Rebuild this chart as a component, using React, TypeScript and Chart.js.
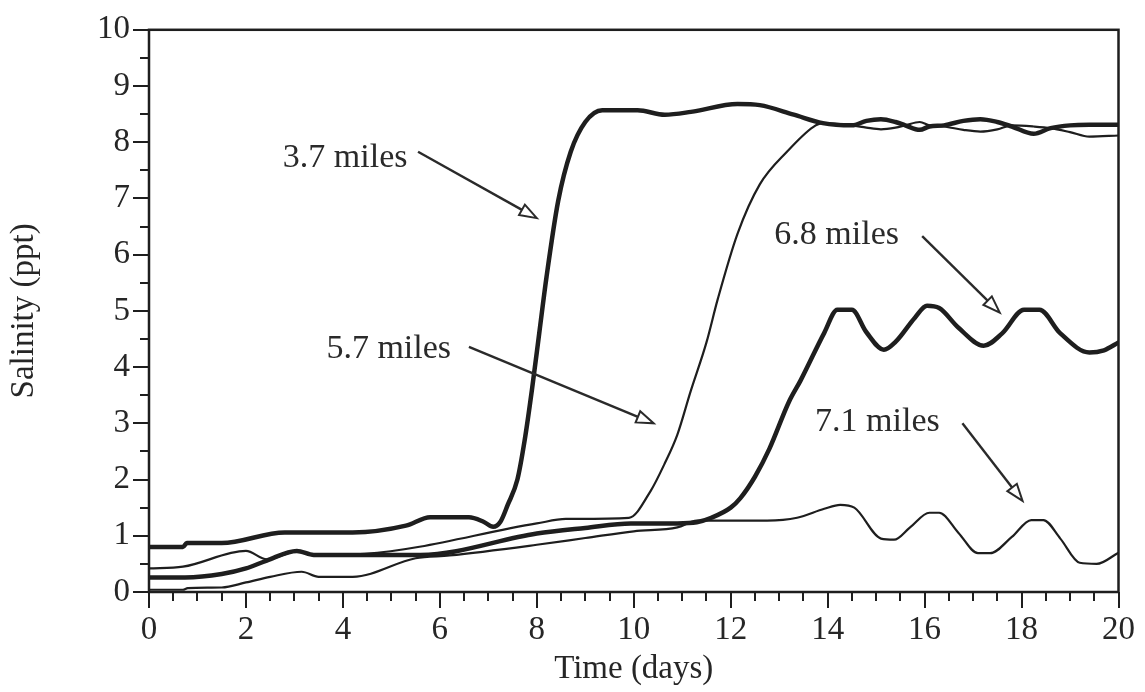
import React, { useEffect, useRef } from 'react';
import { Chart, registerables } from 'chart.js';

Chart.register(...registerables);

// ---- Series data (time in days, salinity in ppt) ----
const days37 = [0, 0.7, 0.78, 1.5, 2.8, 4.2, 5.3, 5.8, 6.6, 6.9, 7.1, 7.25, 7.4, 7.6, 7.75, 7.9, 8.05, 8.2, 8.44, 8.7, 9.0, 9.35, 10.08, 10.64, 11.18, 12.14, 12.6, 13.3, 13.9, 14.5, 14.8, 15.1, 15.4, 15.6, 15.9, 16.1, 16.4, 16.8, 17.15, 17.5, 17.8, 18.25, 18.6, 19.0, 19.4, 20];
const sal37 = [0.8, 0.8, 0.87, 0.87, 1.06, 1.06, 1.18, 1.33, 1.33, 1.25, 1.16, 1.25, 1.55, 2.0, 2.7, 3.6, 4.6, 5.6, 6.95, 7.83, 8.36, 8.57, 8.57, 8.49, 8.54, 8.68, 8.66, 8.49, 8.34, 8.3, 8.38, 8.41, 8.36, 8.3, 8.22, 8.28, 8.3, 8.38, 8.41, 8.36, 8.28, 8.15, 8.25, 8.3, 8.31, 8.31];

const days57 = [0, 0.7, 2.0, 2.43, 3.05, 3.4, 4.45, 8.0, 8.6, 9.9, 10.35, 10.63, 10.9, 11.17, 11.5, 11.73, 12.14, 12.6, 13.17, 13.7, 13.9, 14.5, 14.8, 15.1, 15.4, 15.6, 15.9, 16.1, 16.4, 16.8, 17.15, 17.5, 17.8, 18.25, 18.6, 19.0, 19.4, 20];
const sal57 = [0.42, 0.45, 0.73, 0.58, 0.72, 0.66, 0.68, 1.22, 1.3, 1.32, 1.8, 2.27, 2.8, 3.56, 4.44, 5.2, 6.37, 7.25, 7.84, 8.27, 8.34, 8.3, 8.26, 8.23, 8.26, 8.3, 8.36, 8.3, 8.28, 8.22, 8.19, 8.23, 8.3, 8.28, 8.25, 8.18, 8.1, 8.12];

const days68 = [0, 0.74, 1.5, 2.0, 2.43, 3.05, 3.4, 5.6, 8.0, 9.0, 9.94, 10.9, 11.3, 11.6, 12.0, 12.2, 12.5, 12.8, 13.2, 13.44, 13.93, 14.2, 14.5, 14.8, 15.16, 15.4, 15.8, 16.05, 16.3, 16.7, 17.22, 17.6, 18.05, 18.37, 18.8, 19.4, 19.7, 20];
const sal68 = [0.26, 0.26, 0.32, 0.42, 0.56, 0.73, 0.66, 0.66, 1.04, 1.14, 1.22, 1.22, 1.24, 1.32, 1.5, 1.67, 2.05, 2.55, 3.38, 3.76, 4.61, 5.02, 5.02, 4.62, 4.31, 4.45, 4.88, 5.09, 5.05, 4.7, 4.38, 4.6, 5.02, 5.02, 4.6, 4.26, 4.3, 4.44];

const days71 = [0, 0.7, 0.8, 1.5, 2.0, 2.5, 3.15, 3.5, 4.2, 5.5, 6.2, 8.0, 9.0, 10.0, 10.9, 11.3, 12.75, 13.37, 13.93, 14.26, 14.55, 15.1, 15.37, 15.7, 16.1, 16.3, 16.7, 17.1, 17.35, 17.8, 18.2, 18.45, 18.8, 19.2, 19.55, 20];
const sal71 = [0.04, 0.04, 0.07, 0.08, 0.17, 0.27, 0.36, 0.27, 0.27, 0.6, 0.65, 0.84, 0.96, 1.08, 1.15, 1.27, 1.27, 1.32, 1.48, 1.55, 1.5, 0.95, 0.93, 1.15, 1.41, 1.41, 1.05, 0.69, 0.69, 0.98, 1.28, 1.28, 0.95, 0.52, 0.5, 0.7];

// ---- Annotation labels (text, label anchor, arrow start, arrow tip in data units) ----
const noteTexts = ['3.7 miles', '5.7 miles', '6.8 miles', '7.1 miles'];
const noteX = [2.76, 3.66, 12.9, 13.74];
const noteY = [7.71, 4.32, 6.35, 3.03];
const arrowFromX = [5.55, 6.6, 15.95, 16.78];
const arrowFromY = [7.83, 4.36, 6.33, 3.0];
const arrowToX = [8.0, 10.41, 17.55, 18.02];
const arrowToY = [6.65, 3.0, 4.97, 1.62];

const INK = '#1e1e1e';
const FONT = "'Liberation Serif', 'Times New Roman', serif";

const toPoints = (xs: number[], ys: number[]) => xs.map((x, i) => ({ x, y: ys[i] }));

const decorPlugin = {
  id: 'decor',
  afterDraw(chart: any) {
    const { ctx, chartArea: a, scales } = chart;
    const xs = scales.x;
    const ys = scales.y;
    ctx.save();
    ctx.strokeStyle = INK;
    ctx.fillStyle = INK;
    ctx.lineCap = 'butt';
    // major tick marks (longer)
    ctx.lineWidth = 2;
    ys.ticks.forEach((t: any) => {
      if (Math.abs(t.value % 1) < 1e-6) {
        const py = Math.round(ys.getPixelForValue(t.value));
        ctx.beginPath();
        ctx.moveTo(a.left - 16, py);
        ctx.lineTo(a.left, py);
        ctx.stroke();
      }
    });
    xs.ticks.forEach((t: any) => {
      if (Math.abs(t.value % 2) < 1e-6) {
        const px = Math.round(xs.getPixelForValue(t.value));
        ctx.beginPath();
        ctx.moveTo(px, a.bottom);
        ctx.lineTo(px, a.bottom + 16);
        ctx.stroke();
      }
    });
    // frame
    ctx.lineWidth = 2.5;
    ctx.strokeRect(a.left, a.top, a.right - a.left, a.bottom - a.top);

    // notes and arrows
    ctx.font = `34px ${FONT}`;
    ctx.textAlign = 'left';
    ctx.textBaseline = 'middle';
    noteTexts.forEach((txt, i) => {
      ctx.fillStyle = '#2a2a2a';
      ctx.fillText(txt, xs.getPixelForValue(noteX[i]), ys.getPixelForValue(noteY[i]));
      const x0 = xs.getPixelForValue(arrowFromX[i]);
      const y0 = ys.getPixelForValue(arrowFromY[i]);
      const x1 = xs.getPixelForValue(arrowToX[i]);
      const y1 = ys.getPixelForValue(arrowToY[i]);
      const ang = Math.atan2(y1 - y0, x1 - x0);
      const hl = 17;
      const hw = 6;
      const bx = x1 - hl * Math.cos(ang);
      const by = y1 - hl * Math.sin(ang);
      ctx.lineWidth = 2.4;
      ctx.strokeStyle = '#2a2a2a';
      ctx.beginPath();
      ctx.moveTo(x0, y0);
      ctx.lineTo(bx, by);
      ctx.stroke();
      ctx.lineWidth = 2;
      ctx.beginPath();
      ctx.moveTo(x1, y1);
      ctx.lineTo(bx + hw * Math.sin(ang), by - hw * Math.cos(ang));
      ctx.lineTo(bx - hw * Math.sin(ang), by + hw * Math.cos(ang));
      ctx.closePath();
      ctx.fillStyle = '#ffffff';
      ctx.fill();
      ctx.stroke();
    });
    ctx.restore();
  },
};

export default function App() {
  const ref = useRef<HTMLCanvasElement | null>(null);

  useEffect(() => {
    if (!ref.current) return;
    const lineDs = (xs: number[], ys: number[], w: number, label: string) => ({
      label,
      data: toPoints(xs, ys),
      borderColor: INK,
      backgroundColor: INK,
      borderWidth: w,
      pointRadius: 0,
      fill: false,
      cubicInterpolationMode: 'monotone' as const,
      borderJoinStyle: 'round' as const,
      borderCapStyle: 'round' as const,
    });
    const chart = new Chart(ref.current, {
      type: 'line',
      data: {
        datasets: [
          lineDs(days37, sal37, 4.5, '3.7 miles'),
          lineDs(days57, sal57, 2.2, '5.7 miles'),
          lineDs(days68, sal68, 4.5, '6.8 miles'),
          lineDs(days71, sal71, 2.2, '7.1 miles'),
        ],
      },
      options: {
        animation: false,
        responsive: false,
        devicePixelRatio: 1,
        layout: { padding: { top: 25, right: 24, left: 0, bottom: 0 } },
        plugins: {
          legend: { display: false },
          tooltip: { enabled: false },
        },
        elements: { line: { tension: 0 } },
        scales: {
          x: {
            type: 'linear',
            min: 0,
            max: 20,
            border: { display: false },
            grid: { drawOnChartArea: false, drawTicks: true, tickLength: 9, color: INK, lineWidth: 2 },
            ticks: {
              stepSize: 0.5,
              autoSkip: false,
              maxRotation: 0,
              padding: 10,
              color: '#262626',
              font: { family: FONT, size: 33 },
              callback: (v: any) => (Math.abs(Number(v) % 2) < 1e-6 ? String(v) : ''),
            },
            title: {
              display: true,
              text: 'Time (days)',
              color: '#262626',
              font: { family: FONT, size: 33 },
              padding: { top: 0, bottom: 3 },
            },
            afterFit: (s: any) => {
              s.height = 100;
            },
          },
          y: {
            type: 'linear',
            min: 0,
            max: 10,
            border: { display: false },
            grid: { drawOnChartArea: false, drawTicks: true, tickLength: 9, color: INK, lineWidth: 2 },
            ticks: {
              stepSize: 0.5,
              autoSkip: false,
              padding: 10,
              color: '#262626',
              font: { family: FONT, size: 33 },
              callback: (v: any) => (Math.abs(Number(v) % 1) < 1e-6 ? String(v) : ''),
            },
            title: {
              display: true,
              text: 'Salinity (ppt)',
              color: '#262626',
              font: { family: FONT, size: 33 },
              padding: { top: 5, bottom: 0 },
            },
            afterFit: (s: any) => {
              s.width = 149;
            },
          },
        },
      },
      plugins: [decorPlugin],
    });
    return () => chart.destroy();
  }, []);

  return (
    <div style={{ position: 'fixed', left: 0, top: 0, width: 1145, height: 692, background: '#fff' }}>
      <canvas ref={ref} width={1145} height={692} style={{ display: 'block', width: 1145, height: 692 }} />
    </div>
  );
}
